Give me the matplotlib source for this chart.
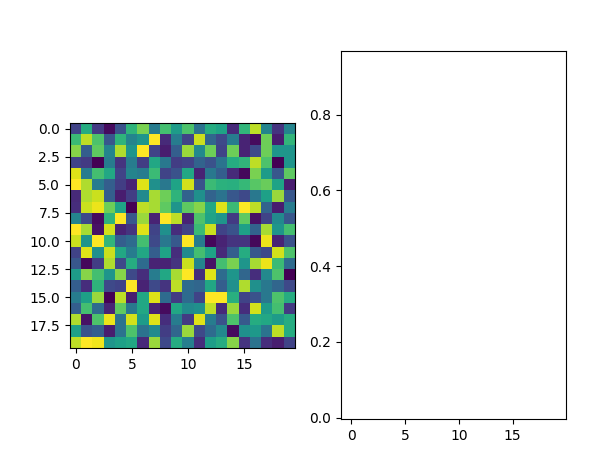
import matplotlib
matplotlib.use('Agg')
import matplotlib.pyplot as plt
import numpy as np

# heatmap values, row by row
row00 = [.20, .62, .17, .03, .25, .65, .80, .42, .70, .55, .72, .38, .62, .58, .12, .66, .90, .45, .15, .45]
row01 = [.68, .90, .72, .27, .65, .45, .52, 1.0, .12, .42, .20, .92, .33, .22, .42, .10, .03, .78, .08, .66]
row02 = [.82, .30, .75, .45, .88, .52, 1.0, .20, .08, .30, .85, .48, .78, .20, .78, .10, .22, .78, .52, .52]
row03 = [.20, .17, .00, .42, .15, .42, .18, .60, .40, .18, .20, .32, .25, .38, .62, .66, .90, .72, .00, .52]
row04 = [.95, .42, .70, .60, .20, .45, .42, .68, .20, .25, .60, .10, .40, .30, .12, .02, .80, .55, .27, .75]
row05 = [1.0, .88, .42, .30, .18, .10, .95, .50, .40, .58, .93, .25, .68, .64, .63, .67, .74, .77, .58, .08]
row06 = [.12, .88, .92, .30, .08, .18, .48, .87, .78, .65, .32, .50, .32, .38, .27, .22, .40, .57, .85, .27]
row07 = [.13, .92, .97, .78, .58, .00, .90, .87, .75, .52, .75, .82, .60, .95, .68, 1.0, .90, .32, .08, .42]
row08 = [.45, .22, .03, .65, 1.0, .27, .85, .10, 1.0, .90, .10, .72, .58, .52, .17, .75, .05, .20, .48, .27]
row09 = [1.0, .87, .05, .93, .10, .15, .95, .20, .50, .13, .20, .68, .92, .20, .25, .57, .32, .87, .52, .70]
row10 = [.92, .52, 1.0, .66, .30, .35, .70, .22, .40, .28, 1.0, .42, .02, .10, .15, .15, .02, .97, .10, .25]
row11 = [.20, .95, .50, .92, .60, .42, .60, .30, .58, .13, .48, .70, .58, .12, .30, .62, .27, .22, .93, .72]
row12 = [.27, .02, .18, .88, .22, .62, .35, .10, .10, .15, .92, .45, .05, .70, .80, .52, .87, .97, .68, .35]
row13 = [.55, .82, .70, .52, .82, .22, .13, .42, .60, .87, 1.0, .13, .95, .35, .52, .33, .13, .47, .72, .00]
row14 = [.30, .13, .65, .22, .20, 1.0, .10, .22, .15, .90, .35, .33, .60, .30, .50, .88, .50, .40, .33, .22]
row15 = [.42, .57, .85, .00, .90, .08, .60, .95, .35, .17, .35, .20, 1.0, 1.0, .63, .20, .25, .40, .72, .62]
row16 = [.30, .70, .35, .10, .75, .40, .60, .10, .03, .60, .48, .50, .90, .12, .85, .13, .93, .55, .70, .17]
row17 = [.88, .05, .72, .97, .38, .93, .55, .95, .13, .42, .17, .95, .42, .25, .72, .28, .62, .60, .55, .62]
row18 = [.57, .25, .30, .08, .38, .72, .38, .48, .18, .33, .85, .22, .35, .47, .03, .50, .54, .38, .90, .62]
row19 = [.90, 1.0, .98, .52, .57, .60, .12, .85, .22, .62, .43, .13, .56, .62, .82, .15, .38, .13, .08, .20]

image = np.array([row00, row01, row02, row03, row04, row05, row06, row07, row08, row09,
                  row10, row11, row12, row13, row14, row15, row16, row17, row18, row19])

W, H = 615, 459
fig = plt.figure(figsize=(W / 100, H / 100), dpi=100)


def place(left, top, right, bottom):
    # pixel box of the reference, y measured from the top
    return [left / W, 1 - bottom / H, (right - left) / W, (bottom - top) / H]


ax1 = fig.add_axes(place(70, 123, 295, 348))
ax1.imshow(image, cmap='viridis', vmin=0, vmax=1, aspect='auto')
ax1.set_xticks([0, 5, 10, 15])
ax1.set_yticks([0, 2.5, 5, 7.5, 10, 12.5, 15, 17.5])

ax2 = fig.add_axes(place(341, 51, 566, 419))
ax2.set_xlim(-0.95, 19.95)
ax2.set_ylim(-0.0034, 0.968)
ax2.set_xticks([0, 5, 10, 15])
ax2.set_yticks([0.0, 0.2, 0.4, 0.6, 0.8])

fig.savefig('out.png', dpi=100)
